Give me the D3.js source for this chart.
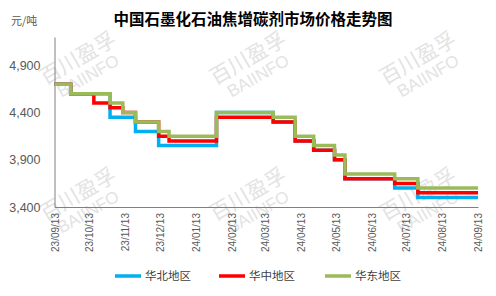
<!DOCTYPE html>
<html><head><meta charset="utf-8">
<script src="https://cdn.jsdelivr.net/npm/d3@7"></script>
<style>body{margin:0;background:#fff}svg{display:block}</style>
</head><body>
<script>
const title = "中国石墨化石油焦增碳剂市场价格走势图";
const unit = "元/吨";
const seriesNames = ["华北地区", "华中地区", "华东地区"];
const seriesColors = ["#00B0F0", "#FF0000", "#9BBB59"];
const changeDates = ["2023-09-13","2023-09-27","2023-10-17","2023-10-31","2023-11-11","2023-11-22","2023-12-12","2023-12-21","2024-01-31","2024-03-20","2024-04-08","2024-04-24","2024-05-12","2024-05-21","2024-07-03","2024-07-23","2024-09-13"];
const north   = [4700,4600,4600,4350,4350,4200,4050,4050,4400,4300,4100,4000,3900,3700,3600,3500,3500];
const central = [4700,4600,4500,4450,4400,4300,4150,4100,4350,4300,4100,4000,3900,3700,3650,3550,3550];
const east    = [4700,4600,4600,4500,4400,4300,4200,4150,4400,4350,4150,4050,3950,3750,3700,3600,3600];
const yTicks = [3400, 3900, 4400, 4900];
const xTickDates = ["2023-09-13","2023-10-13","2023-11-13","2023-12-13","2024-01-13","2024-02-13","2024-03-13","2024-04-13","2024-05-13","2024-06-13","2024-07-13","2024-08-13","2024-09-13"];

const W = 496, H = 296;
const m = {l:54.5, r:18, t:37, b:89};
const parse = d3.timeParse("%Y-%m-%d");
const fmt = d3.timeFormat("%y/%m/%d");
const svg = d3.select("body").append("svg").attr("width", W).attr("height", H);

const x = d3.scaleTime().domain([parse(changeDates[0]), parse(changeDates[changeDates.length-1])]).range([m.l, W - m.r]);
const y = d3.scaleLinear().domain([3400, 5200]).range([H - m.b, m.t]);

// watermark
const wm = svg.append("g").attr("fill", "#e3e3e3").attr("font-family", "'Noto Sans CJK SC', sans-serif");
[[83,67],[253,67],[423,67],[83,203],[253,203],[423,203]].forEach(([cx,cy]) => {
  const g = wm.append("g").attr("transform", `translate(${cx},${cy}) rotate(-30)`);
  g.append("text").attr("text-anchor","middle").attr("y",-3).attr("font-size",21).text("百川盈孚");
  g.append("text").attr("text-anchor","middle").attr("y",16).attr("font-size",17).attr("font-family","'Liberation Sans', Arial, sans-serif").text("BAIINFO");
});

// title
svg.append("text").attr("x", 253).attr("y", 25).attr("text-anchor","middle")
  .attr("font-family","'Noto Sans CJK SC', sans-serif").attr("font-weight","bold").attr("font-size",15.5)
  .attr("fill","#000").text(title);
svg.append("text").attr("x", 11).attr("y", 25).attr("font-family","'Noto Sans CJK SC', sans-serif")
  .attr("font-size",11).attr("fill","#595959").text(unit);

// axes
const yAxis = svg.append("g").attr("transform", `translate(${m.l},0)`)
  .call(d3.axisLeft(y).tickValues(yTicks).tickSize(0).tickPadding(14).tickFormat(d3.format(",")));
yAxis.select(".domain").attr("stroke","#808080");
yAxis.selectAll("text").attr("font-family","'Liberation Sans', Arial, sans-serif").attr("font-size",12.5).attr("fill","#595959");

const xAxis = svg.append("g").attr("transform", `translate(0,${H - m.b})`)
  .call(d3.axisBottom(x).tickValues(xTickDates.map(parse)).tickSize(0).tickFormat(fmt));
xAxis.select(".domain").attr("stroke","#808080");
xAxis.selectAll("text").attr("font-family","'Liberation Sans', Arial, sans-serif").attr("font-size",10).attr("fill","#595959")
  .attr("text-anchor","end").attr("dy",null).attr("dominant-baseline","central")
  .attr("transform","translate(0,6) rotate(-90)").attr("x",0).attr("y",0);

// lines
const seriesData = [north, central, east];
const line = d3.line().x(d => x(d.date)).y(d => y(d.v)).curve(d3.curveStepAfter);
seriesData.forEach((vals, i) => {
  const pts = vals.map((v, j) => ({date: parse(changeDates[j]), v}));
  svg.append("path").datum(pts).attr("d", line).attr("fill","none")
    .attr("stroke", seriesColors[i]).attr("stroke-width", 3.5).attr("stroke-linejoin","miter");
});

// legend
const legX = [115, 219, 325];
seriesNames.forEach((n, i) => {
  svg.append("line").attr("x1", legX[i]).attr("x2", legX[i] + 26).attr("y1", 276).attr("y2", 276)
    .attr("stroke", seriesColors[i]).attr("stroke-width", 3.5);
  svg.append("text").attr("x", legX[i] + 30).attr("y", 280).attr("font-family","'Noto Sans CJK SC', sans-serif")
    .attr("font-size", 11.5).attr("fill","#404040").text(n);
});
</script>
</body></html>
